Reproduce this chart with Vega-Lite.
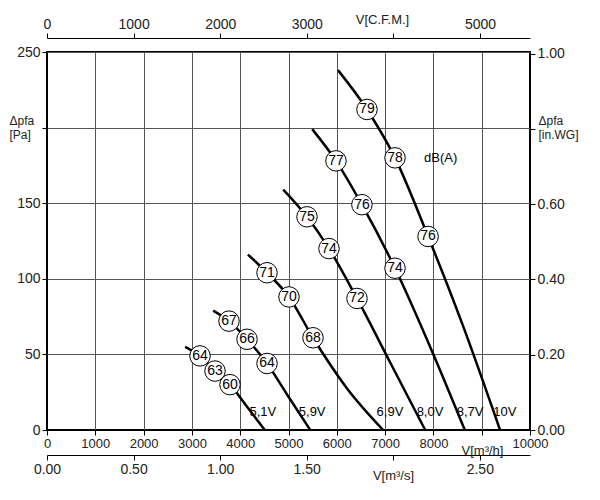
{
"$schema":"https://vega.github.io/schema/vega-lite/v6.json",
"width":483,"height":378,
"autosize":{"type":"none"},
"padding":{"left":47,"top":52,"right":70,"bottom":70},
"config":{"font":"Liberation Sans","view":{"stroke":"black","strokeWidth":2},
"axis":{"labelFont":"Liberation Sans","titleFont":"Liberation Sans","labelFontSize":14,"titleFontSize":12,"titleFontWeight":"normal","labelColor":"#222","titleColor":"#222","domainColor":"black","tickColor":"black","gridColor":"#555","gridWidth":1,"labelOverlap":false,"labelFlush":false}},
"datasets":{
"curves":[
{"v":"10V","q":6025,"p":238},{"v":"10V","q":6625,"p":212},{"v":"10V","q":7205,"p":180},{"v":"10V","q":7890,"p":128},{"v":"10V","q":8600,"p":70},{"v":"10V","q":9380,"p":0},
{"v":"8.7V","q":5490,"p":199},{"v":"8.7V","q":5983,"p":178},{"v":"8.7V","q":6520,"p":149},{"v":"8.7V","q":7205,"p":107},{"v":"8.7V","q":8000,"p":50},{"v":"8.7V","q":8650,"p":0},
{"v":"8.0V","q":4890,"p":159},{"v":"8.0V","q":5383,"p":141},{"v":"8.0V","q":5838,"p":120},{"v":"8.0V","q":6418,"p":87},{"v":"8.0V","q":7100,"p":45},{"v":"8.0V","q":7830,"p":0},
{"v":"6.9V","q":4160,"p":116},{"v":"6.9V","q":4555,"p":104},{"v":"6.9V","q":5010,"p":88},{"v":"6.9V","q":5507,"p":61},{"v":"6.9V","q":6200,"p":28},{"v":"6.9V","q":6960,"p":0},
{"v":"5.9V","q":3440,"p":79},{"v":"5.9V","q":3768,"p":72},{"v":"5.9V","q":4141,"p":60},{"v":"5.9V","q":4555,"p":44},{"v":"5.9V","q":5000,"p":22},{"v":"5.9V","q":5450,"p":0},
{"v":"5.1V","q":2860,"p":55},{"v":"5.1V","q":3168,"p":49},{"v":"5.1V","q":3478,"p":39},{"v":"5.1V","q":3789,"p":30},{"v":"5.1V","q":4150,"p":15},{"v":"5.1V","q":4510,"p":0}],
"db":[
{"t":"79","q":6625,"p":212},{"t":"78","q":7205,"p":180},{"t":"76","q":7890,"p":128},
{"t":"77","q":5983,"p":178},{"t":"76","q":6520,"p":149},{"t":"74","q":7205,"p":107},
{"t":"75","q":5383,"p":141},{"t":"74","q":5838,"p":120},{"t":"72","q":6418,"p":87},
{"t":"71","q":4555,"p":104},{"t":"70","q":5010,"p":88},{"t":"68","q":5507,"p":61},
{"t":"67","q":3768,"p":72},{"t":"66","q":4141,"p":60},{"t":"64","q":4555,"p":44},
{"t":"64","q":3168,"p":49},{"t":"63","q":3478,"p":39},{"t":"60","q":3789,"p":30}],
"vl":[
{"t":"5,1V","q":4470,"p":12},{"t":"5,9V","q":5490,"p":12},{"t":"6,9V","q":7100,"p":12},
{"t":"8,0V","q":7930,"p":12},{"t":"8,7V","q":8760,"p":12},{"t":"10V","q":9480,"p":12},
{"t":"dB(A)","q":8150,"p":180}],
"cfm":[{"c":0},{"c":1000},{"c":2000},{"c":3000},{"c":4000},{"c":5000}],
"ms":[{"m":0},{"m":0.5},{"m":1},{"m":1.5},{"m":2},{"m":2.5}],
"wg":[{"w":0},{"w":0.2},{"w":0.4},{"w":0.6},{"w":0.8},{"w":1}]
},
"layer":[
{"data":{"name":"curves"},"mark":{"type":"line","color":"black","strokeWidth":2.5,"interpolate":"monotone"},
"encoding":{"detail":{"field":"v"},
"x":{"field":"q","type":"quantitative","scale":{"domain":[0,10000],"nice":false},"axis":{"values":[0,1000,2000,3000,4000,5000,6000,7000,8000,9000,10000],"format":"d","labelExpr":"datum.value==9000?'':datum.label","grid":true,"title":"V[m³/h]","titleX":435,"titleY":14,"titleFontSize":13,"labelFontSize":13,"tickSize":5}},
"y":{"field":"p","type":"quantitative","scale":{"domain":[0,250],"nice":false},"axis":{"values":[0,50,100,150,200,250],"labelExpr":"datum.value==200?'':datum.label","grid":true,"title":["Δpfa","[Pa]"],"titleAngle":0,"titleAlign":"left","titleBaseline":"middle","titleX":-38,"titleY":68,"tickSize":5}}}},
{"data":{"name":"db"},"mark":{"type":"point","shape":"circle","size":420,"filled":true,"fill":"white","stroke":"black","strokeWidth":1,"opacity":1},
"encoding":{"x":{"field":"q","type":"quantitative","scale":{"domain":[0,10000],"nice":false},"axis":null},"y":{"field":"p","type":"quantitative","scale":{"domain":[0,250],"nice":false},"axis":null}}},
{"data":{"name":"db"},"mark":{"type":"text","fontSize":14,"color":"black"},
"encoding":{"text":{"field":"t"},"x":{"field":"q","type":"quantitative","scale":{"domain":[0,10000],"nice":false},"axis":null},"y":{"field":"p","type":"quantitative","scale":{"domain":[0,250],"nice":false},"axis":null}}},
{"data":{"name":"vl"},"mark":{"type":"text","fontSize":13,"color":"black"},
"encoding":{"text":{"field":"t"},"x":{"field":"q","type":"quantitative","scale":{"domain":[0,10000],"nice":false},"axis":null},"y":{"field":"p","type":"quantitative","scale":{"domain":[0,250],"nice":false},"axis":null}}},
{"data":{"name":"cfm"},"mark":{"type":"tick","opacity":0},
"encoding":{"x":{"field":"c","type":"quantitative","scale":{"domain":[0,5577],"nice":false},"axis":{"orient":"top","values":[0,1000,2000,3000,4000,5000],"format":"d","labelExpr":"datum.value==4000?'':datum.label","title":"V[C.F.M.]","titleX":335,"titleY":-12,"titleFontSize":13,"offset":14,"tickSize":5}}}},
{"data":{"name":"ms"},"mark":{"type":"tick","opacity":0},
"encoding":{"x":{"field":"m","type":"quantitative","scale":{"domain":[0,2.79],"nice":false},"axis":{"orient":"bottom","values":[0,0.5,1,1.5,2,2.5],"format":".2f","labelExpr":"datum.value==2?'':datum.label","title":"V[m³/s]","titleX":346,"titleY":14,"titleFontSize":13,"offset":25,"tickSize":5}}}},
{"data":{"name":"wg"},"mark":{"type":"tick","opacity":0},
"encoding":{"y":{"field":"w","type":"quantitative","scale":{"domain":[0,1.004],"nice":false},"axis":{"orient":"right","values":[0,0.2,0.4,0.6,0.8,1],"format":".2f","labelExpr":"datum.value==0.8?'':datum.label","title":["Δpfa","[in.WG]"],"titleAngle":0,"titleAlign":"left","titleBaseline":"middle","titleX":8,"titleY":68,"tickSize":5}}}}
],
"resolve":{"scale":{"x":"independent","y":"independent"}}
}
